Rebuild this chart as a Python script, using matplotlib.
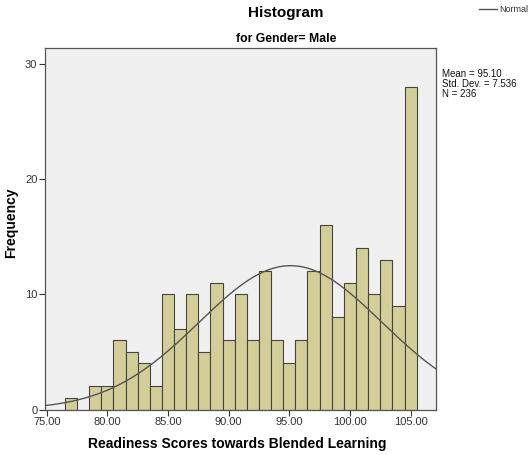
import numpy as np
import matplotlib
matplotlib.use("Agg")
import matplotlib.pyplot as plt

plt.rcParams['font.family'] = ['Liberation Sans', 'DejaVu Sans']

# Data (bin centers, counts)
scores = [77, 78, 79, 80, 81, 82, 83, 84, 85, 86, 87, 88, 89, 90, 91,
          92, 93, 94, 95, 96, 97, 98, 99, 100, 101, 102, 103, 104, 105]
counts = [1, 0, 2, 2, 6, 5, 4, 2, 10, 7, 10, 5, 11, 6, 10,
          6, 12, 6, 4, 6, 12, 16, 8, 11, 14, 10, 13, 9, 28]
mean_val = 95.10
sd_val = 7.536
n_val = 236
x_ticks = [75, 80, 85, 90, 95, 100, 105]
y_ticks = [0, 10, 20, 30]

W, H = 531, 455
fig = plt.figure(figsize=(W / 100, H / 100), dpi=100)
ax_l, ax_r, ax_t, ax_b = 45, 435.7, 48, 409.5
ax = fig.add_axes([ax_l / W, 1 - ax_b / H, (ax_r - ax_l) / W, (ax_b - ax_t) / H])
ax.set_facecolor('#F0F0F0')

ax.bar(scores, counts, width=1.0, align='center', color='#D3CE97',
       edgecolor='#444444', linewidth=0.8, zorder=2)

xlo, xhi = 74.86, 107.07
xs = np.linspace(xlo, xhi, 400)
ys = n_val * 1.0 / (sd_val * np.sqrt(2 * np.pi)) * np.exp(-0.5 * ((xs - mean_val) / sd_val) ** 2)
ax.plot(xs, ys, color='#555555', linewidth=1.0, zorder=3)

ax.set_xlim(xlo, xhi)
ax.set_ylim(0, 31.4)
ax.set_xticks(x_ticks)
ax.set_xticklabels([f"{t:.2f}" for t in x_ticks])
ax.set_yticks(y_ticks)
ax.tick_params(axis='both', direction='out', length=4, width=0.8, color='#333333',
               labelsize=8, labelcolor='#333333', pad=1.5)
for s in ax.spines.values():
    s.set_color('#555555')
    s.set_linewidth(0.9)

fig.text(237 / W, 1 - 444 / H, 'Readiness Scores towards Blended Learning',
         ha='center', va='center', fontsize=10, fontweight='bold')
fig.text(11.5 / W, 1 - 223 / H, 'Frequency', ha='center', va='center',
         rotation=90, fontsize=10, fontweight='bold')

fig.text(286 / W, 1 - 12.5 / H, 'Histogram', ha='center', va='center',
         fontsize=11, fontweight='bold')
fig.text(286 / W, 1 - 39 / H, 'for Gender= Male', ha='center', va='center',
         fontsize=8.8, fontweight='bold')

# legend
fig.lines.append(plt.Line2D([479 / W, 497 / W], [1 - 9 / H, 1 - 9 / H],
                            transform=fig.transFigure, color='#555555', linewidth=1.0))
fig.text(499 / W, 1 - 9 / H, 'Normal', ha='left', va='center', fontsize=6.5,
         color='#333333')

fig.text(442 / W, 1 - 84 / H,
         f"Mean = {mean_val:.2f}\nStd. Dev. = {sd_val:.3f}\nN = {n_val}",
         ha='left', va='center', fontsize=7, color='#111111', linespacing=1.05)

fig.savefig('out.png', dpi=100, facecolor='white')
